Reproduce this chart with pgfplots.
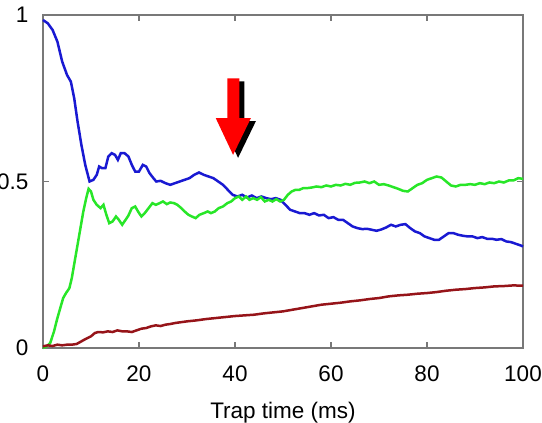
\documentclass[border=0pt]{standalone}
\usepackage{fontspec}
\setmainfont{Liberation Sans}
\usepackage{pgfplots}
\pgfplotsset{compat=1.18}
\usetikzlibrary{calc}

\definecolor{cblue}{RGB}{25,25,210}
\definecolor{cgreen}{RGB}{40,230,40}
\definecolor{cred}{RGB}{150,20,25}
\definecolor{axgray}{RGB}{120,120,120}

\begin{document}
\begin{tikzpicture}
\begin{axis}[
name=ax, scale only axis, width=480pt, height=333pt,
xmin=0, xmax=100, ymin=0, ymax=1,
xtick={0,20,40,60,80,100}, ytick={0,0.5,1},
yticklabels={0,0.5,1},
/pgf/number format/assume math mode=true,
font=\fontsize{22.5}{27}\selectfont,
tick label style={font=\fontsize{22.5}{27}\selectfont},
axis line style={axgray, line width=1.4pt},
tick style={axgray, line width=1.2pt},
major tick length=6pt,
tick align=inside,
xlabel={Trap time (ms)},
xlabel style={yshift=-14pt},
yticklabel style={xshift=-11pt},
xticklabel style={yshift=-14pt},
clip=false,
]
% blue
\addplot[cblue, line width=2.5pt] coordinates {
(0,0.985)(1,0.975)(2,0.955)(3,0.92)(4,0.86)(5,0.82)(5.8,0.80)(6.5,0.75)(7.2,0.68)(8,0.61)(8.8,0.55)(9.7,0.50)
(10.5,0.505)(11.2,0.52)(11.7,0.545)(12.3,0.54)(13,0.54)(13.6,0.575)(14.3,0.585)(15,0.58)(15.6,0.565)(16.2,0.585)
(17,0.585)(17.8,0.575)(18.5,0.55)(19.2,0.53)(20,0.53)(20.8,0.55)(21.5,0.545)(22.2,0.525)(23,0.51)(23.6,0.5)
(24.5,0.502)(25.5,0.495)(26.5,0.49)(27.5,0.495)(28.5,0.50)(29.5,0.505)(30.5,0.51)(31.5,0.52)(32.5,0.527)(33.5,0.52)
(34.5,0.515)(35.5,0.51)(36.5,0.5)(37.5,0.49)(38.5,0.475)(39.5,0.46)(40.5,0.455)(41.5,0.46)(42.5,0.452)(43.5,0.458)
(44.5,0.45)(45.5,0.455)(46.5,0.45)(47.5,0.447)(48.5,0.45)(49.5,0.445)(50.5,0.43)(51.5,0.415)(52.5,0.41)(53.5,0.405)
(54.5,0.405)(55.5,0.40)(56.5,0.405)(57.5,0.398)(58.5,0.40)(59.5,0.39)(60.5,0.393)(61.5,0.385)(62.5,0.385)(63.5,0.375)
(64.5,0.365)(65.5,0.36)(66.5,0.357)(67.5,0.358)(68.5,0.355)(69.5,0.352)(70.5,0.356)(71.5,0.362)(72.5,0.37)(73.5,0.365)
(74.5,0.37)(75.5,0.372)(76.5,0.36)(77.5,0.35)(78.5,0.345)(79.5,0.335)(80.5,0.33)(81.5,0.325)(82.5,0.325)(83.5,0.335)
(84.5,0.345)(85.5,0.345)(86.5,0.34)(87.5,0.337)(88.5,0.335)(89.5,0.335)(90.5,0.33)(91.5,0.333)(92.5,0.328)(93.5,0.328)
(94.5,0.325)(95.5,0.327)(96.5,0.32)(97.5,0.318)(98.5,0.313)(99.5,0.308)(100,0.305)
};
% green
\addplot[cgreen, line width=2.5pt] coordinates {
(0,0.0)(0.8,0.005)(1.5,0.015)(2.3,0.05)(3,0.09)(3.6,0.12)(4.2,0.15)(4.8,0.165)(5.5,0.18)(6,0.21)(6.6,0.26)(7.2,0.31)
(7.8,0.36)(8.4,0.41)(9,0.45)(9.5,0.478)(10,0.47)(10.5,0.445)(11.2,0.43)(12,0.42)(12.6,0.43)(13.2,0.40)(13.8,0.375)
(14.5,0.38)(15.2,0.395)(15.8,0.385)(16.5,0.37)(17.2,0.385)(17.8,0.398)(18.5,0.42)(19.2,0.425)(19.8,0.41)(20.5,0.395)
(21.2,0.405)(22,0.42)(22.8,0.435)(23.5,0.43)(24.3,0.435)(25,0.44)(25.8,0.432)(26.5,0.437)(27.3,0.435)(28,0.43)
(28.8,0.42)(29.5,0.41)(30.3,0.40)(31,0.395)(31.8,0.39)(32.6,0.40)(33.5,0.405)(34.3,0.41)(35,0.405)(35.8,0.41)
(36.6,0.42)(37.5,0.425)(38.4,0.435)(39.2,0.44)(40,0.45)(40.8,0.455)(41.5,0.445)(42.3,0.455)(43,0.445)(43.8,0.45)
(44.6,0.445)(45.4,0.453)(46.2,0.44)(47,0.445)(47.8,0.44)(48.6,0.447)(49.4,0.44)(50.2,0.445)(51,0.46)(51.8,0.47)
(52.6,0.475)(53.4,0.475)(54.2,0.48)(55,0.48)(56,0.482)(57,0.485)(58,0.483)(59,0.488)(60,0.485)(61,0.49)(62,0.488)
(63,0.493)(64,0.49)(65,0.496)(66,0.497)(67,0.5)(68,0.495)(69,0.5)(70,0.49)(71,0.492)(72,0.488)(73,0.483)(74,0.478)
(75,0.472)(76,0.47)(77,0.48)(78,0.49)(79,0.495)(80,0.505)(81,0.51)(82,0.515)(83,0.512)(84,0.5)(85,0.488)(86,0.485)
(87,0.49)(88,0.49)(89,0.492)(90,0.49)(91,0.495)(92,0.492)(93,0.497)(94,0.495)(95,0.5)(96,0.497)(97,0.503)(98,0.503)
(99,0.51)(100,0.508)
};
% dark red
\addplot[cred, line width=2.5pt] coordinates {
(0,0.005)(1,0.008)(2,0.006)(3,0.01)(4,0.008)(5,0.01)(6,0.01)(7,0.012)(8,0.02)(9,0.028)(10,0.035)(10.8,0.045)
(11.5,0.048)(12.5,0.047)(13.5,0.05)(14.5,0.048)(15.5,0.053)(16.5,0.05)(17.5,0.05)(18.5,0.048)(19.5,0.053)(20.5,0.058)
(21.5,0.06)(22.5,0.065)(23.5,0.068)(24.5,0.066)(25.5,0.07)(26.5,0.072)(27.5,0.075)(28.5,0.077)(30,0.08)(32,0.083)
(34,0.087)(36,0.09)(38,0.093)(40,0.096)(42,0.098)(44,0.10)(46,0.104)(48,0.107)(50,0.11)(52,0.115)(54,0.12)(56,0.125)
(58,0.13)(60,0.133)(62,0.136)(64,0.14)(66,0.143)(68,0.147)(70,0.15)(72,0.155)(74,0.158)(76,0.16)(78,0.163)(80,0.165)
(82,0.168)(84,0.172)(86,0.175)(88,0.177)(90,0.18)(92,0.182)(94,0.185)(96,0.186)(98,0.188)(100,0.187)
};
% arrow: black shadow then red
\fill[black, shift={(5pt,-3pt)}] (axis cs:38.4,0.81) -- (axis cs:40.9,0.81) -- (axis cs:40.9,0.69) -- (axis cs:43.3,0.69)
  -- (axis cs:39.6,0.58) -- (axis cs:36.0,0.69) -- (axis cs:38.4,0.69) -- cycle;
\fill[red] (axis cs:38.4,0.81) -- (axis cs:40.9,0.81) -- (axis cs:40.9,0.69) -- (axis cs:43.3,0.69)
  -- (axis cs:39.6,0.58) -- (axis cs:36.0,0.69) -- (axis cs:38.4,0.69) -- cycle;
\end{axis}
\pgfresetboundingbox
\path ($(ax.south west)+(-43pt,-74pt)$) rectangle ($(ax.north east)+(19pt,15pt)$);
\end{tikzpicture}
\end{document}
